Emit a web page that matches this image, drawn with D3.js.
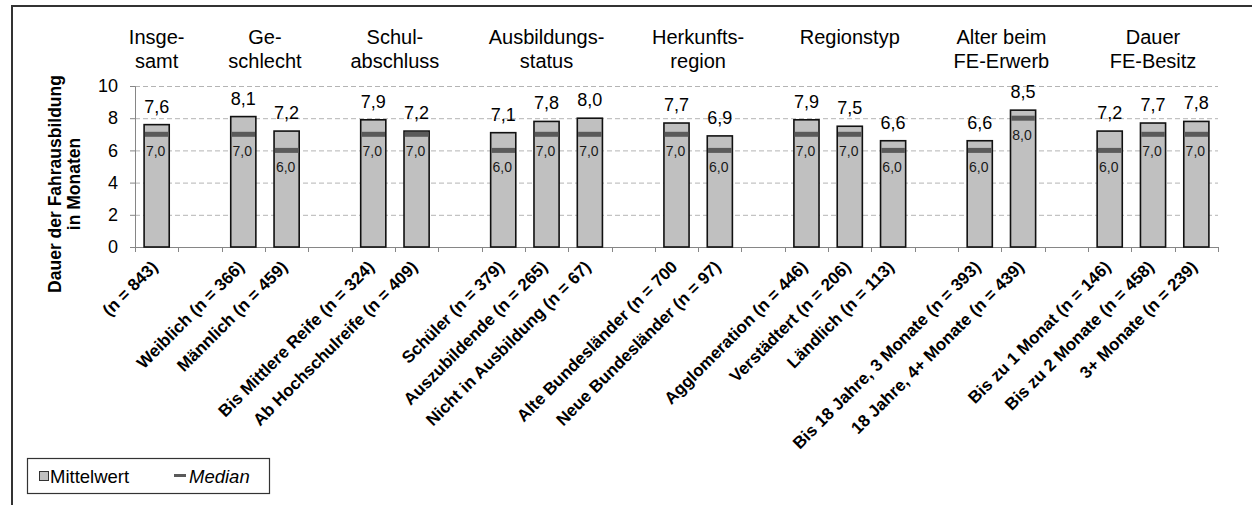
<!DOCTYPE html>
<html>
<head>
<meta charset="utf-8">
<script src="https://cdn.jsdelivr.net/npm/d3@7/dist/d3.min.js"></script>
<style>
  html, body { margin: 0; padding: 0; background: #fff; }
  svg { display: block; font-family: "Liberation Sans", Arial, sans-serif; }
</style>
</head>
<body>
<svg id="chart" width="1252" height="505"></svg>
<script>
// Group headings (one entry per line) and how many bars each group holds
const groupHeaders = [
  ["Insge-", "samt"],
  ["Ge-", "schlecht"],
  ["Schul-", "abschluss"],
  ["Ausbildungs-", "status"],
  ["Herkunfts-", "region"],
  ["Regionstyp"],
  ["Alter beim", "FE-Erwerb"],
  ["Dauer", "FE-Besitz"]
];
const groupSizes = [1, 2, 2, 3, 2, 3, 2, 3];

const categories = [
  "(n = 843)",
  "Weiblich (n = 366)", "Männlich (n = 459)",
  "Bis Mittlere Reife (n = 324)", "Ab Hochschulreife (n = 409)",
  "Schüler (n = 379)", "Auszubildende (n = 265)", "Nicht in Ausbildung (n = 67)",
  "Alte Bundesländer (n = 700", "Neue Bundesländer (n = 97)",
  "Agglomeration (n = 446)", "Verstädtert (n = 206)", "Ländlich (n = 113)",
  "Bis 18 Jahre, 3 Monate (n = 393)", "18 Jahre, 4+ Monate (n = 439)",
  "Bis zu 1 Monat (n = 146)", "Bis zu 2 Monate (n = 458)", "3+ Monate (n = 239)"
];
const meanValues   = [7.6, 8.1, 7.2, 7.9, 7.2, 7.1, 7.8, 8.0, 7.7, 6.9, 7.9, 7.5, 6.6, 6.6, 8.5, 7.2, 7.7, 7.8];
const medianValues = [7.0, 7.0, 6.0, 7.0, 7.0, 6.0, 7.0, 7.0, 7.0, 6.0, 7.0, 7.0, 6.0, 6.0, 8.0, 6.0, 7.0, 7.0];
const yTicks = [0, 2, 4, 6, 8, 10];

const fmt = v => d3.format(".1f")(v).replace(".", ",");

// Lay the bars into slots, leaving one empty slot between groups
const slotOfBar = [];
const groupSlots = [];
let slot = 0;
groupSizes.forEach((n, g) => {
  const first = slot;
  for (let i = 0; i < n; i++) slotOfBar.push(slot++);
  groupSlots.push([first, slot - 1]);
  if (g < groupSizes.length - 1) slot++;
});
const slotCount = slot;

const svg = d3.select("#chart");
const plot = { left: 135, right: 1218, top: 86, bottom: 247 };

const x = d3.scaleBand().domain(d3.range(slotCount)).range([plot.left, plot.right]).paddingInner(0).paddingOuter(0);
const y = d3.scaleLinear().domain([0, 10]).range([plot.bottom, plot.top]);

// Outer chart frame
svg.append("rect")
  .attr("x", 12).attr("y", 6).attr("width", 1260).attr("height", 520)
  .attr("fill", "none").attr("stroke", "#333").attr("stroke-width", 2);

// Dashed horizontal gridlines
svg.append("g").selectAll("line")
  .data(yTicks.filter(d => d > 0))
  .join("line")
  .attr("x1", plot.left).attr("x2", plot.right)
  .attr("y1", d => y(d) + 0.5).attr("y2", d => y(d) + 0.5)
  .attr("stroke", "#b4b4b4").attr("stroke-width", 1)
  .attr("stroke-dasharray", "5,3");

// Y axis
const yAxis = svg.append("g")
  .attr("transform", `translate(${plot.left},0)`)
  .call(d3.axisLeft(y).tickValues(yTicks).tickSize(5).tickPadding(12).tickFormat(d3.format("d")));
yAxis.select(".domain").attr("stroke", "#868686");
yAxis.selectAll(".tick line").attr("stroke", "#868686");
yAxis.selectAll(".tick text")
  .attr("font-size", 18).attr("fill", "#000")
  .attr("font-family", "Liberation Sans, Arial, sans-serif");

// X axis line with ticks on slot boundaries
const xAxisG = svg.append("g");
xAxisG.append("line")
  .attr("x1", plot.left).attr("x2", plot.right)
  .attr("y1", plot.bottom + 0.5).attr("y2", plot.bottom + 0.5)
  .attr("stroke", "#868686").attr("stroke-width", 1.2);
xAxisG.selectAll("line.tk")
  .data(d3.range(slotCount + 1))
  .join("line").attr("class", "tk")
  .attr("x1", d => Math.round(plot.left + d * x.step()) + 0.5)
  .attr("x2", d => Math.round(plot.left + d * x.step()) + 0.5)
  .attr("y1", plot.bottom).attr("y2", plot.bottom + 5)
  .attr("stroke", "#868686").attr("stroke-width", 1);

// Bars (mean)
const barW = x.bandwidth() * 0.58;
const bars = svg.append("g").selectAll("g")
  .data(meanValues.map((m, i) => ({ mean: m, median: medianValues[i], slot: slotOfBar[i] })))
  .join("g");

bars.append("rect")
  .attr("x", d => x(d.slot) + (x.bandwidth() - barW) / 2)
  .attr("y", d => y(d.mean))
  .attr("width", barW)
  .attr("height", d => y(0) - y(d.mean))
  .attr("fill", "#c0c0c0").attr("stroke", "#111").attr("stroke-width", 1.6);

// Median marker
bars.append("rect")
  .attr("x", d => x(d.slot) + (x.bandwidth() - barW) / 2 + 0.8)
  .attr("y", d => y(d.median) - 2.5)
  .attr("width", barW - 1.6)
  .attr("height", 5)
  .attr("fill", "#5a5a5a");

// Mean labels above bars
bars.append("text")
  .attr("x", d => x(d.slot) + x.bandwidth() / 2)
  .attr("y", d => y(d.mean) - 12)
  .attr("text-anchor", "middle")
  .attr("font-size", 18).attr("fill", "#000")
  .text(d => fmt(d.mean));

// Median labels below the marker
bars.append("text")
  .attr("x", d => x(d.slot) + x.bandwidth() / 2 - 1)
  .attr("y", d => y(d.median) + 22)
  .attr("text-anchor", "middle")
  .attr("font-size", 14).attr("fill", "#1a1a1a")
  .text(d => fmt(d.median));

// Rotated category labels
svg.append("g").selectAll("text")
  .data(categories)
  .join("text")
  .attr("transform", (d, i) => {
    const cx = x(slotOfBar[i]) + x.bandwidth() / 2 + 2;
    return `translate(${cx},${plot.bottom + 21}) rotate(-45)`;
  })
  .attr("text-anchor", "end")
  .attr("font-size", 17).attr("font-weight", "bold").attr("fill", "#000")
  .text(d => d);

// Group headings
const headers = svg.append("g").selectAll("text")
  .data(groupHeaders.map((lines, g) => ({ lines, span: groupSlots[g] })))
  .join("text")
  .attr("text-anchor", "middle")
  .attr("font-size", 20).attr("fill", "#000");
headers.selectAll("tspan")
  .data(d => d.lines.map((t, k) => ({
    t, k, cx: (x(d.span[0]) + x(d.span[1]) + x.bandwidth()) / 2
  })))
  .join("tspan")
  .attr("x", d => d.cx)
  .attr("y", d => 44 + d.k * 23.5)
  .text(d => d.t);

// Y axis title
const yTitle = svg.append("text")
  .attr("transform", "translate(0,184) rotate(-90)")
  .attr("text-anchor", "middle")
  .attr("font-size", 17.5).attr("font-weight", "bold").attr("fill", "#000");
yTitle.append("tspan").attr("x", 0).attr("y", 61).text("Dauer der Fahrausbildung");
yTitle.append("tspan").attr("x", 0).attr("y", 80).text("in Monaten");

// Legend
const lg = svg.append("g");
lg.append("rect")
  .attr("x", 27.5).attr("y", 458.5).attr("width", 242).attr("height", 35)
  .attr("fill", "#fff").attr("stroke", "#333").attr("stroke-width", 1.2);
lg.append("rect")
  .attr("x", 39.5).attr("y", 471.5).attr("width", 9).attr("height", 9)
  .attr("fill", "#c0c0c0").attr("stroke", "#333").attr("stroke-width", 1);
lg.append("text")
  .attr("x", 50).attr("y", 483)
  .attr("font-size", 18.5).attr("fill", "#000")
  .text("Mittelwert");
lg.append("rect")
  .attr("x", 174).attr("y", 474).attr("width", 12).attr("height", 3)
  .attr("fill", "#5a5a5a");
lg.append("text")
  .attr("x", 189).attr("y", 483)
  .attr("font-size", 18.5).attr("font-style", "italic").attr("fill", "#000")
  .text("Median");
</script>
</body>
</html>
